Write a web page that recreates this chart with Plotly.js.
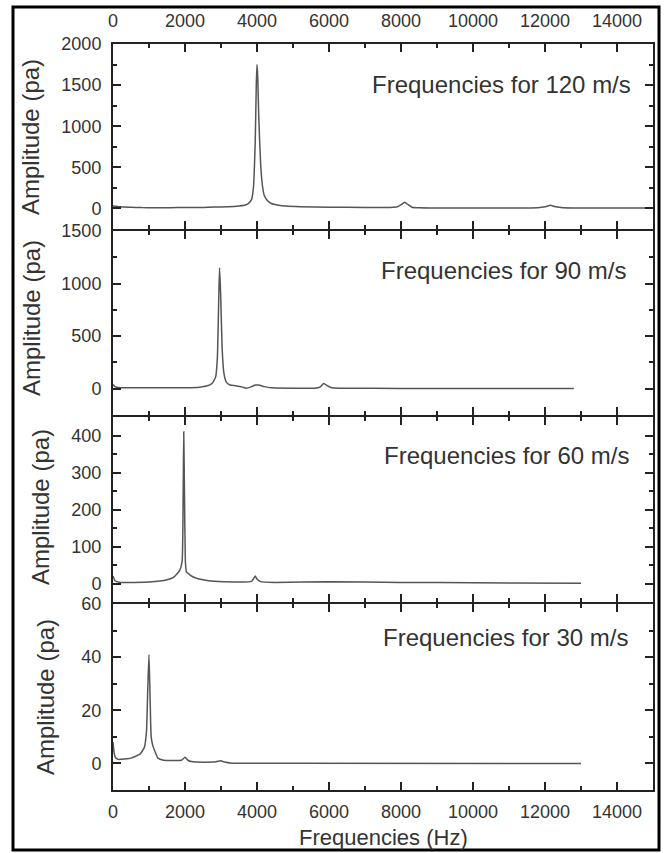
<!DOCTYPE html>
<html>
<head>
<meta charset="utf-8">
<script src="https://cdn.plot.ly/plotly-3.0.1.min.js"></script>
<style>html,body{margin:0;padding:0;background:#fff;}#chart{width:665px;height:853px;}</style>
</head>
<body>
<div id="chart"></div>
<script>
// ---- Data ----
const freq120 = [0,200,500,800,1200,1600,2000,2400,2800,3200,3500,3650,3750,3850,3900,3950,3980,4000,4020,4050,4100,4150,4200,4300,4400,4600,4800,5200,6000,7000,7700,7900,8000,8100,8200,8300,8500,9000,10000,11000,11800,12000,12150,12300,12500,13000,14000,15000];
const amp120  = [30,20,15,10,8,9,12,10,18,20,30,40,55,110,250,800,1500,1750,1600,1100,550,280,160,90,60,40,30,22,15,12,12,20,45,75,45,15,8,5,5,5,8,20,40,20,8,5,5,5];

const freq90 = [0,50,200,1000,2000,2400,2600,2750,2850,2900,2940,2960,2990,3030,3080,3150,3250,3400,3600,3700,3850,3950,4050,4200,4400,5000,5600,5750,5850,5950,6050,6300,8000,10000,12800];
const amp90  = [40,20,10,8,10,15,25,50,110,300,900,1150,900,400,150,60,35,28,15,5,20,35,35,20,8,5,5,15,50,30,12,5,3,2,2];

const freq60 = [0,50,200,1000,1500,1700,1850,1920,1950,1965,1985,2010,2040,2080,2150,2300,2500,2800,3500,3850,3950,4000,4100,4500,6000,8000,10000,13000];
const amp60  = [20,8,3,4,10,18,35,60,250,410,250,60,30,28,22,15,10,6,4,6,20,12,5,3,5,3,2,1];

const freq30 = [0,30,80,150,500,750,870,930,970,1000,1030,1060,1100,1180,1250,1400,1900,2000,2100,2300,2800,3000,3100,3300,5000,13000];
const amp30  = [8,4,2,1.5,2,3.5,6,12,30,41,25,10,7,4,2,1.2,1.2,2.3,1,0.5,0.5,1,0.5,0.1,0.05,0];

const panelLabels = ["Frequencies for 120 m/s","Frequencies for 90 m/s","Frequencies for 60 m/s","Frequencies for 30 m/s"];
const yTitle = "Amplitude (pa)";
const xTitle = "Frequencies (Hz)";

// ---- Layout helpers ----
const W = 665, H = 853;
const px = x => x / W;
const py = y => 1 - y / H;
const FONT = "Liberation Sans, Arial, sans-serif";
const TXT = "#333";
const AX = "#222";
const LINE = "#555";

const xDom = [px(113), px(653)];
// adjacent panels offset by the line width so shared borders coincide
const yDoms = [[py(229), py(44)], [py(415), py(231)], [py(602), py(417)], [py(790), py(604)]];
const yRanges = [[-250,2000],[-250,1500],[-50,450],[-10,60]];
const yDtick = [500,500,100,20];
const yMinor = [250,250,50,10];

const series = [[freq120,amp120],[freq90,amp90],[freq60,amp60],[freq30,amp30]];
const data = series.map((s,i) => ({
  x: s[0], y: s[1], type: 'scatter', mode: 'lines',
  line: {color: LINE, width: 1.5, shape: 'spline', smoothing: 0.4},
  xaxis: i === 0 ? 'x' : 'x' + (i+1),
  yaxis: i === 0 ? 'y' : 'y' + (i+1),
  showlegend: false, hoverinfo: 'skip'
}));

const layout = {
  width: W, height: H,
  margin: {l:0, r:0, t:0, b:0},
  paper_bgcolor: '#fff', plot_bgcolor: '#fff',
  font: {family: FONT, color: TXT, size: 18},
  showlegend: false,
  annotations: [],
  shapes: [{
    type: 'rect', xref: 'paper', yref: 'paper',
    x0: px(13), x1: px(659), y0: py(850), y1: py(7),
    line: {color: '#000', width: 3}, fillcolor: 'rgba(0,0,0,0)', layer: 'above'
  }]
};

for (let i = 0; i < 4; i++) {
  const xk = i === 0 ? 'xaxis' : 'xaxis' + (i+1);
  const yk = i === 0 ? 'yaxis' : 'yaxis' + (i+1);
  const yId = i === 0 ? 'y' : 'y' + (i+1);
  const xId = i === 0 ? 'x' : 'x' + (i+1);
  layout[xk] = {
    domain: xDom, anchor: yId, range: [0, 15000],
    tickmode: 'linear', tick0: 0, dtick: 2000, tickformat: 'd',
    ticks: 'inside', ticklen: 8, tickwidth: 2, tickcolor: AX,
    minor: {ticks: 'inside', ticklen: 4, tickwidth: 2, tickcolor: AX, dtick: 1000, tick0: 0, showgrid: false},
    showline: true, linecolor: AX, linewidth: 2, mirror: 'ticks',
    showgrid: false, zeroline: false,
    side: i === 0 ? 'top' : 'bottom',
    showticklabels: (i === 0 || i === 3),
    tickfont: {family: FONT, size: 18, color: TXT},
    ticklabelstandoff: i === 0 ? 8 : 4,
    fixedrange: true
  };
  layout[yk] = {
    domain: yDoms[i], anchor: xId, range: yRanges[i],
    tickmode: 'linear', tick0: 0, dtick: yDtick[i], tickformat: 'd',
    ticks: 'inside', ticklen: 8, tickwidth: 2, tickcolor: AX,
    minor: {ticks: 'inside', ticklen: 4, tickwidth: 2, tickcolor: AX, dtick: yMinor[i], tick0: 0, showgrid: false},
    showline: true, linecolor: AX, linewidth: 2, mirror: 'ticks',
    showgrid: false, zeroline: false,
    tickfont: {family: FONT, size: 18, color: TXT},
    ticklabelstandoff: 6,
    fixedrange: true
  };
}

// Panel labels (top-right inside each panel)
const labelY = [85, 270, 455, 637];
const labelX = [633, 628, 631, 630];
panelLabels.forEach((t,i) => layout.annotations.push({
  text: t, xref: 'paper', yref: 'paper', x: px(labelX[i]), y: py(labelY[i]),
  xanchor: 'right', yanchor: 'middle', showarrow: false,
  font: {family: FONT, size: 24, color: TXT}
}));

// Y-axis titles
const yTitleY = [137, 318, 507, 697];
const yTitleX = [31, 31, 40, 45];
yTitleY.forEach((yy,i) => layout.annotations.push({
  text: yTitle, xref: 'paper', yref: 'paper', x: px(yTitleX[i]), y: py(yy),
  xanchor: 'center', yanchor: 'middle', textangle: -90, showarrow: false,
  font: {family: FONT, size: 24, color: TXT}
}));

// X-axis title
layout.annotations.push({
  text: xTitle, xref: 'paper', yref: 'paper', x: px(383), y: py(823),
  xanchor: 'center', yanchor: 'top', showarrow: false,
  font: {family: FONT, size: 22, color: TXT}
});

Plotly.newPlot('chart', data, layout, {staticPlot: true, displayModeBar: false});
</script>
</body>
</html>
